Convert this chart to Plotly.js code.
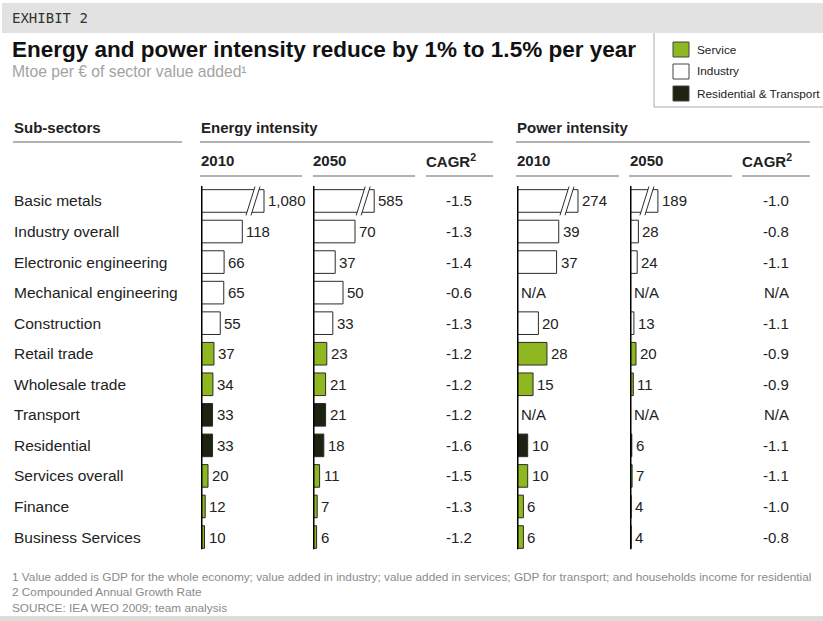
<!DOCTYPE html>
<html><head><meta charset="utf-8">
<script src="https://cdn.plot.ly/plotly-3.0.1.min.js"></script>
<style>html,body{margin:0;padding:0;background:#fff;}</style>
</head><body>
<div id="chart" style="width:823px;height:621px;"></div>
<script>
// ---------- data ----------
const subsectors = ["Basic metals","Industry overall","Electronic engineering","Mechanical engineering","Construction","Retail trade","Wholesale trade","Transport","Residential","Services overall","Finance","Business Services"];
const groups = ["Industry","Industry","Industry","Industry","Industry","Service","Service","Residential & Transport","Residential & Transport","Service","Service","Service"];
const energy2010 = [1080,118,66,65,55,37,34,33,33,20,12,10];
const energy2050 = [585,70,37,50,33,23,21,21,18,11,7,6];
const energyCagr = [-1.5,-1.3,-1.4,-0.6,-1.3,-1.2,-1.2,-1.2,-1.6,-1.5,-1.3,-1.2];
const power2010 = [274,39,37,null,20,28,15,null,10,10,6,6];
const power2050 = [189,28,24,null,13,20,11,null,6,7,4,4];
const powerCagr = [-1.0,-0.8,-1.1,null,-1.1,-0.9,-0.9,null,-1.1,-1.1,-1.0,-0.8];
const legendItems = ["Service","Industry","Residential & Transport"];

// ---------- style ----------
const W = 823, H = 621;
const px = x => x / W, py = y => 1 - y / H;
const FONT = "Liberation Sans, Arial, sans-serif";
const TXT = "#222";
const fills = {"Service":"#8fb71f","Industry":"#ffffff","Residential & Transport":"#1d2310"};
const COLW = 110;
const cols = [
  {vals: energy2010, xa:"x",  base:201, scale:0.35, cap:180},
  {vals: energy2050, xa:"x2", base:313, scale:0.60, cap:102},
  {vals: power2010,  xa:"x3", base:517, scale:1.07, cap:57},
  {vals: power2050,  xa:"x4", base:630, scale:0.30, cap:93}
];
const rowTop = 185.7, rowBot = 552.3;
const BARW = 0.74;
const idx = subsectors.map((_, i) => i);

const traces = [];
const shapes = [];
const annotations = [];
const layout = {
  width: W, height: H, autosize: false,
  margin: {l:0, r:0, t:0, b:0, pad:0},
  paper_bgcolor: "#fff", plot_bgcolor: "rgba(0,0,0,0)",
  showlegend: false, barmode: "overlay",
  font: {family: FONT, color: TXT},
  yaxis: {domain:[py(rowBot), py(rowTop)], range:[11.5,-0.5], visible:false, fixedrange:true}
};

cols.forEach((c, k) => {
  const axName = k === 0 ? "xaxis" : "xaxis" + (k + 1);
  layout[axName] = {domain:[px(c.base), px(c.base + COLW)], range:[0, COLW / c.scale],
    visible:false, anchor:"y", fixedrange:true};
  const disp = c.vals.map(v => v == null ? null : Math.min(v, c.cap));
  traces.push({
    type:"bar", orientation:"h", x: disp, y: idx, xaxis: c.xa, yaxis:"y",
    width: BARW, hoverinfo:"none",
    marker:{color: groups.map(g => fills[g]), line:{color:"#2b2b2b", width:1}}
  });
  // axis line
  shapes.push({type:"line", xref:c.xa, yref:"y", x0:0, x1:0, y0:-0.49, y1:11.4,
    line:{color:"#000", width:3}});
  // value labels and break marks
  c.vals.forEach((v, i) => {
    const d = v == null ? 0 : Math.min(v, c.cap);
    annotations.push({xref:c.xa, yref:"y", x:d, y:i, xanchor:"left", yanchor:"middle",
      xshift:2, showarrow:false,
      text: v == null ? "N/A" : v.toLocaleString("en-US"),
      font:{size:15, color:TXT, family:FONT}});
    if (v != null && v > c.cap) {
      const u = 1 / c.scale;  // axis units per pixel
      const yb = i + BARW/2 + 0.1, yt = i - BARW/2 - 0.1;
      const a1 = d - 18*u, a2 = d - 13*u, b1 = d - 9*u, b2 = d - 4*u;
      shapes.push({type:"path", xref:c.xa, yref:"y",
        path:`M ${a1},${yb} L ${a2},${yb} L ${b2},${yt} L ${b1},${yt} Z`,
        fillcolor:"#fff", line:{width:0}});
      shapes.push({type:"line", xref:c.xa, yref:"y", x0:a1, y0:yb, x1:b1, y1:yt, line:{color:"#2b2b2b", width:1}});
      shapes.push({type:"line", xref:c.xa, yref:"y", x0:a2, y0:yb, x1:b2, y1:yt, line:{color:"#2b2b2b", width:1}});
    }
  });
});

// row labels and CAGR columns
subsectors.forEach((s, i) => {
  annotations.push({xref:"paper", yref:"y", x:px(12), y:i, xanchor:"left", yanchor:"middle",
    showarrow:false, text:s, font:{size:15.5, color:TXT, family:FONT}});
  annotations.push({xref:"paper", yref:"y", x:px(459), y:i, xanchor:"center", yanchor:"middle",
    showarrow:false, text: energyCagr[i].toFixed(1), font:{size:15, color:TXT, family:FONT}});
  annotations.push({xref:"paper", yref:"y", x:px(776), y:i, xanchor:"center", yanchor:"middle",
    showarrow:false, text: powerCagr[i] == null ? "N/A" : powerCagr[i].toFixed(1),
    font:{size:15, color:TXT, family:FONT}});
});

// header band, legend box, bottom band
shapes.push({type:"rect", xref:"paper", yref:"paper", x0:px(2), x1:px(823), y0:py(33), y1:py(3),
  fillcolor:"#e2e2e2", line:{width:0}, layer:"below"});
shapes.push({type:"rect", xref:"paper", yref:"paper", x0:px(0), x1:px(823), y0:py(621), y1:py(616),
  fillcolor:"#dcdcdc", line:{width:0}, layer:"below"});
shapes.push({type:"line", xref:"paper", yref:"paper", x0:px(654), x1:px(654), y0:py(33), y1:py(107),
  line:{color:"#aaa", width:1}});
shapes.push({type:"line", xref:"paper", yref:"paper", x0:px(654), x1:px(823), y0:py(107), y1:py(107),
  line:{color:"#aaa", width:1}});

// header underlines
const hl = (x0, x1, y) => shapes.push({type:"line", xref:"paper", yref:"paper",
  x0:px(x0), x1:px(x1), y0:py(y), y1:py(y), line:{color:"#9a9a9a", width:1.5}});
hl(13,182,142); hl(200,493,142); hl(516,810,142);
hl(200,302,176); hl(313,415,176); hl(426,493,176);
hl(516,619,176); hl(629,732,176); hl(742,810,176);

const txt = (t, x, y, size, opts = {}) => annotations.push(Object.assign({
  xref:"paper", yref:"paper", x:px(x), y:py(y), xanchor:"left", yanchor:"middle",
  showarrow:false, text:t, font:{size:size, color:TXT, family:FONT}}, opts));

txt("EXHIBIT 2", 10, 18, 14, {font:{size:14, color:"#333", family:"DejaVu Sans Mono, monospace"}});
txt("<b>Energy and power intensity reduce by 1% to 1.5% per year</b>", 10, 49, 22.5, {font:{size:22.5, color:"#111", family:FONT}});
txt("Mtoe per € of sector value added¹", 10, 72, 15.7, {font:{size:15.7, color:"#a3a3a3", family:FONT}});

const HS = 15;
txt("<b>Sub-sectors</b>", 12, 127, HS);
txt("<b>Energy intensity</b>", 199, 127, HS);
txt("<b>Power intensity</b>", 515, 127, HS);
txt("<b>2010</b>", 199, 160, HS);
txt("<b>2050</b>", 311, 160, HS);
txt("<b>CAGR<sup>2</sup></b>", 424, 160, HS);
txt("<b>2010</b>", 515, 160, HS);
txt("<b>2050</b>", 628, 160, HS);
txt("<b>CAGR<sup>2</sup></b>", 740, 160, HS);

// legend
legendItems.forEach((g, k) => {
  const yc = 49.5 + 22 * k;
  shapes.push({type:"rect", xref:"paper", yref:"paper", x0:px(673), x1:px(689),
    y0:py(yc + 7.5), y1:py(yc - 7.5), fillcolor:fills[g], line:{color:"#444", width:1}});
  txt(g, 695, yc, 11.8, {font:{size:11.8, color:TXT, family:FONT}});
});

// footnotes
const FN = "Liberation Sans Narrow, Arial Narrow, Liberation Sans, sans-serif";
const FS = 11.8;
txt("1 Value added is GDP for the whole economy; value added in industry; value added in services; GDP for transport; and households income for residential", 10, 577, FS, {font:{size:FS, color:"#8a8a8a", family:FN}});
txt("2 Compounded Annual Growth Rate", 10, 592, FS, {font:{size:FS, color:"#8a8a8a", family:FN}});
txt("SOURCE: IEA WEO 2009; team analysis", 10, 608, FS, {font:{size:FS, color:"#8a8a8a", family:FN}});

layout.shapes = shapes;
layout.annotations = annotations;
Plotly.newPlot("chart", traces, layout, {displayModeBar:false, staticPlot:true});
</script>
</body></html>
